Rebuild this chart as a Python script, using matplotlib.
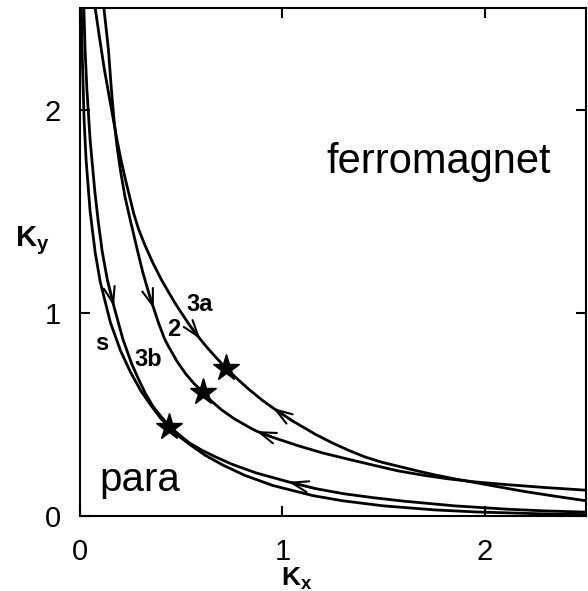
import numpy as np
import matplotlib
matplotlib.use("Agg")
import matplotlib.pyplot as plt

plt.rcParams['font.family'] = ['Liberation Sans', 'DejaVu Sans']
plt.rcParams['mathtext.fontset'] = 'custom'
plt.rcParams['mathtext.bf'] = 'Liberation Sans:bold'
plt.rcParams['mathtext.rm'] = 'Liberation Sans'

# curve s (self-dual line)
s_kx = [0.0067, 0.01, 0.02, 0.03, 0.05, 0.075, 0.1, 0.15, 0.2, 0.25, 0.3, 0.35, 0.4, 0.4407,
        0.479, 0.545, 0.617, 0.707, 0.814, 0.953, 1.152, 1.297, 1.498, 1.753, 1.956, 2.303, 2.5]
s_ky = [2.5, 2.303, 1.956, 1.753, 1.498, 1.297, 1.152, 0.953, 0.814, 0.707, 0.617, 0.545, 0.479, 0.4407,
        0.4, 0.35, 0.3, 0.25, 0.2, 0.15, 0.1, 0.075, 0.05, 0.03, 0.02, 0.01, 0.0067]

# curve 3b
b3_kx = [0.019, 0.025, 0.034, 0.05, 0.073, 0.09, 0.11, 0.135, 0.168, 0.212, 0.255, 0.293, 0.325, 0.36, 0.4, 0.442,
         0.49, 0.54, 0.6, 0.665, 0.75, 0.87, 1.03, 1.163, 1.3, 1.45, 1.6, 1.85, 2.1, 2.3, 2.5]
b3_ky = [2.5, 2.3, 2.1, 1.85, 1.6, 1.45, 1.3, 1.163, 1.03, 0.87, 0.75, 0.665, 0.6, 0.54, 0.49, 0.442,
         0.4, 0.36, 0.325, 0.293, 0.255, 0.212, 0.168, 0.135, 0.11, 0.09, 0.073, 0.05, 0.034, 0.025, 0.019]

# curve 2
c2_kx = [0.118, 0.14, 0.155, 0.168, 0.183, 0.2, 0.222, 0.25, 0.279, 0.31, 0.345, 0.388, 0.418, 0.437,
         0.48, 0.522, 0.565, 0.606,
         0.65, 0.7, 0.76, 0.835, 0.871, 0.95, 1.08, 1.2, 1.327, 1.45, 1.572, 1.7, 1.818, 1.95, 2.1, 2.3, 2.5]
c2_ky = [2.5, 2.3, 2.1, 1.95, 1.818, 1.7, 1.572, 1.45, 1.327, 1.2, 1.08, 0.95, 0.871, 0.835,
         0.76, 0.7, 0.65, 0.612,
         0.565, 0.522, 0.48, 0.437, 0.418, 0.388, 0.345, 0.31, 0.279, 0.25, 0.222, 0.2, 0.183, 0.168, 0.155, 0.14, 0.127]

# curve 3a
a3_kx = [0.075, 0.097, 0.12, 0.145, 0.165, 0.183, 0.203, 0.225, 0.245, 0.265, 0.29, 0.322, 0.358, 0.402,
         0.468, 0.532, 0.57, 0.623, 0.672, 0.721,
         0.78, 0.835, 0.9, 0.953, 1.05, 1.163, 1.25, 1.33, 1.41, 1.49, 1.572, 1.654, 1.75, 1.85, 1.95,
         2.06, 2.2, 2.35, 2.5]
a3_ky = [2.5, 2.35, 2.2, 2.06, 1.95, 1.85, 1.75, 1.654, 1.572, 1.49, 1.41, 1.33, 1.25, 1.163,
         1.05, 0.953, 0.9, 0.835, 0.78, 0.728,
         0.672, 0.623, 0.57, 0.532, 0.468, 0.402, 0.358, 0.322, 0.29, 0.265, 0.245, 0.225, 0.203, 0.183, 0.165,
         0.145, 0.12, 0.097, 0.075]

# fixed points
star_kx = [0.721, 0.606, 0.442]
star_ky = [0.728, 0.612, 0.44]

# flow arrows: (tip, tail)
arrows = [((0.595, 0.87), (0.548, 0.93)),
          ((0.365, 1.02), (0.345, 1.08)),
          ((0.168, 1.03), (0.135, 1.163)),
          ((0.953, 0.532), (1.05, 0.468)),
          ((0.871, 0.418), (0.95, 0.388)),
          ((1.03, 0.168), (1.163, 0.135))]

labels = [("3a", 0.592, 1.042), ("2", 0.462, 0.919), ("3b", 0.337, 0.768), ("s", 0.106, 0.85)]

fig = plt.figure(figsize=(5.88, 5.91), dpi=100)
ax = fig.add_axes([80/588, 75/591, 506/588, 508/591])

for kx, ky in [(s_kx, s_ky), (b3_kx, b3_ky), (c2_kx, c2_ky), (a3_kx, a3_ky)]:
    ax.plot(kx, ky, color='black', lw=2.0, solid_joinstyle='round')

ax.plot(star_kx, star_ky, linestyle='none', marker='*', markersize=20, color='black')

for tip, tail in arrows:
    ax.annotate('', xy=tip, xytext=tail,
                arrowprops=dict(arrowstyle='->,head_length=1.2,head_width=0.4',
                                lw=1.5, color='black', mutation_scale=10,
                                shrinkA=0, shrinkB=0))

for txt, x, y in labels:
    ax.text(x, y, txt, fontsize=17, fontweight='bold', ha='center', va='center')

ax.text(1.77, 1.74, 'ferromagnet', fontsize=30, ha='center', va='center')
ax.text(0.295, 0.175, 'para', fontsize=29, ha='center', va='center')

ax.set_xlim(0, 2.5)
ax.set_ylim(0, 2.5)
ax.set_xticks([0, 1, 2])
ax.set_yticks([0, 1, 2])
ax.tick_params(direction='in', length=7, width=1.5, top=True, right=True,
               labelsize=21)
ax.tick_params(axis='x', pad=16)
ax.tick_params(axis='y', pad=14)
for sp in ax.spines.values():
    sp.set_linewidth(1.5)

fig.text(297/588, 1 - 586/591, r'$\mathbf{K_x}$', fontsize=19, ha='center', va='baseline')
fig.text(32/588, 1 - 241/591, r'$\mathbf{K_y}$', fontsize=21, ha='center', va='center')

fig.savefig('out.png', dpi=100)
